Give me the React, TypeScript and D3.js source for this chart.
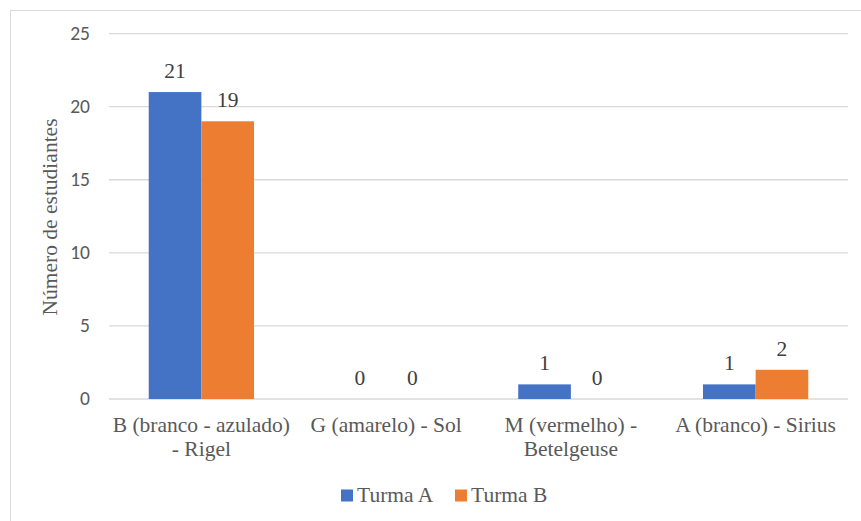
import React from "react";
import * as d3 from "d3";

const categories = [
  ["B (branco - azulado)", "- Rigel"],
  ["G (amarelo) - Sol"],
  ["M (vermelho) -", "Betelgeuse"],
  ["A (branco) - Sirius"],
];
const seriesNames = ["Turma A", "Turma B"];
const turmaA = [21, 0, 1, 1];
const turmaB = [19, 0, 0, 2];
const yTicks = [0, 5, 10, 15, 20, 25];
const colors = ["#4472C4", "#ED7D31"];

const W = 861;
const H = 521;
const plot = { left: 109, right: 848, top: 33.6, bottom: 399 };

const serif = { fontFamily: "Liberation Serif", fontSize: 21.5 };
const sans = { fontFamily: "Carlito", fontSize: 19.5 };

export default function App() {
  const y = d3.scaleLinear().domain([0, 25]).range([plot.bottom, plot.top]);
  const x0 = d3
    .scaleBand<number>()
    .domain(categories.map((_, i) => i))
    .range([plot.left, plot.right])
    .padding(0);
  const groupW = x0.bandwidth() * 0.57;
  const x1 = d3.scaleBand<number>().domain([0, 1]).range([0, groupW]).padding(0);
  const series = [turmaA, turmaB];

  return (
    <svg
      width={W}
      height={H}
      style={{ position: "absolute", left: 0, top: 0, background: "#fff" }}
    >
      <rect x={10.5} y={10.5} width={W + 20} height={H + 20} fill="#fff" stroke="#D9D9D9" />
      {yTicks.map((t) => (
        <g key={t}>
          <line
            x1={plot.left}
            x2={plot.right}
            y1={y(t)}
            y2={y(t)}
            stroke="#D9D9D9"
            strokeWidth={1.3}
          />
          <text x={90} y={y(t)} dy="0.33em" textAnchor="end" style={sans} fill="#595959">
            {t}
          </text>
        </g>
      ))}
      {categories.map((cat, i) => {
        const gx = (x0(i) as number) + (x0.bandwidth() - groupW) / 2;
        const cx = (x0(i) as number) + x0.bandwidth() / 2;
        return (
          <g key={i}>
            {series.map((vals, s) => {
              const bx = gx + (x1(s) as number);
              const v = vals[i];
              return (
                <g key={s}>
                  <rect
                    x={bx}
                    y={y(v)}
                    width={x1.bandwidth()}
                    height={plot.bottom - y(v)}
                    fill={colors[s]}
                  />
                  <text
                    x={bx + x1.bandwidth() / 2}
                    y={y(v) - 14}
                    textAnchor="middle"
                    style={serif}
                    fill="#404040"
                  >
                    {v}
                  </text>
                </g>
              );
            })}
            {cat.map((line, li) => (
              <text
                key={li}
                x={cx}
                y={432 + li * 24}
                textAnchor="middle"
                style={serif}
                fill="#595959"
              >
                {line}
              </text>
            ))}
          </g>
        );
      })}
      <text
        transform="translate(57,217) rotate(-90)"
        textAnchor="middle"
        style={serif}
        fill="#595959"
      >
        Número de estudiantes
      </text>
      {seriesNames.map((name, s) => {
        const lx = [341, 455][s];
        return (
          <g key={name}>
            <rect x={lx} y={489.5} width={12} height={12} fill={colors[s]} />
            <text x={lx + 16} y={501.5} style={serif} fill="#595959">
              {name}
            </text>
          </g>
        );
      })}
    </svg>
  );
}
